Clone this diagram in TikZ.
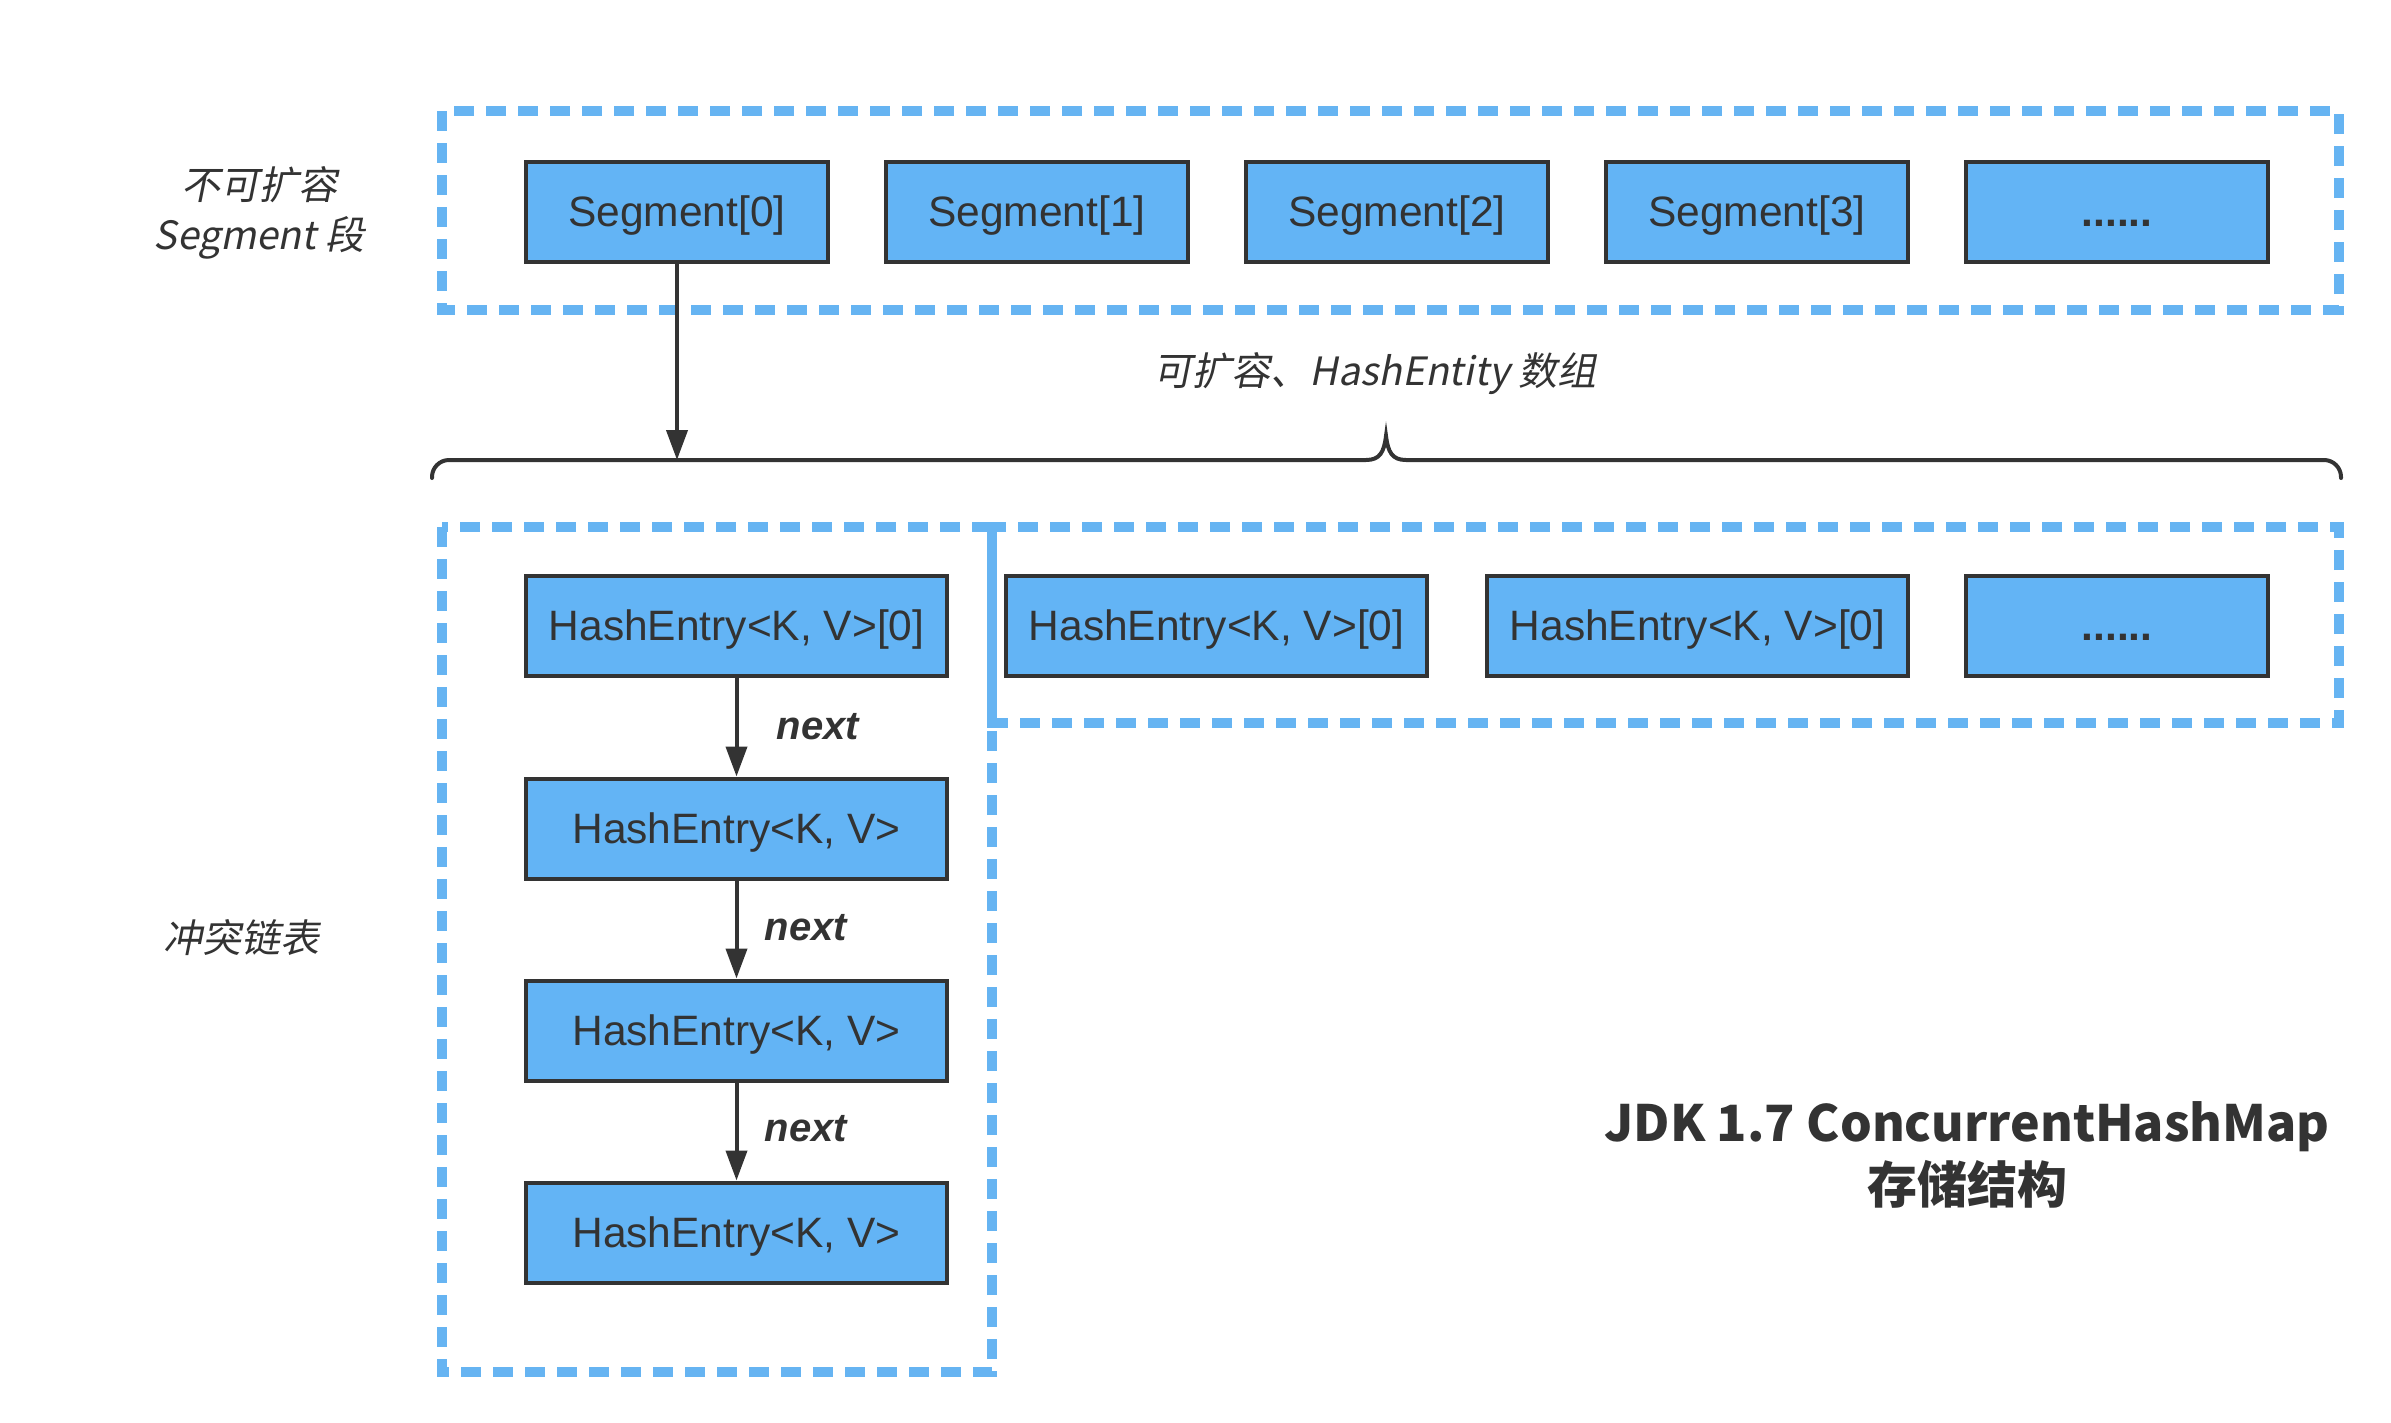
\documentclass[tikz,border=0pt]{standalone}
\usepackage{fontspec}
\setmainfont{Liberation Sans}
\newfontfamily\cjk{Noto Sans CJK SC}
\newfontfamily\cjkit[FakeSlant=0.2]{Noto Sans CJK SC}
\usetikzlibrary{arrows.meta}
\definecolor{boxblue}{RGB}{99,180,245}
\definecolor{dashblue}{RGB}{102,180,242}
\definecolor{ink}{RGB}{51,51,51}
\tikzset{
  cell/.style={draw=ink, line width=4pt, fill=boxblue, text=ink, minimum height=100pt,
    inner sep=0pt, text height=32pt, text depth=3pt, font=\fontsize{42.5}{48}\selectfont},
  segcell/.style={cell, minimum width=302pt},
  hecell/.style={cell, minimum width=421pt},
  group/.style={draw=dashblue, line width=10pt, dash pattern=on 20pt off 12pt},
  link/.style={draw=ink, line width=4pt, -{Triangle[length=30pt,width=21pt]}},
  note/.style={text=ink, font=\cjkit\fontsize{39}{50}\selectfont, align=center},
  nextlbl/.style={text=ink, font=\bfseries\itshape\fontsize{40}{48}\selectfont},
}
\newcommand{\moredots}{{\bfseries......}}
\begin{document}
\begin{tikzpicture}[x=1pt,y=-1pt]
\useasboundingbox (0,0) rectangle (2391,1422);
% dashed groups
\draw[group] (442,111) rectangle (2339,310);
\draw[group] (442,527) rectangle (992,1372);
\draw[group] (992,527) rectangle (2339,723);
% segments
\node[segcell] (s0) at (677,212) {Segment[0]};
\node[segcell] (s1) at (1037,212) {Segment[1]};
\node[segcell] (s2) at (1397,212) {Segment[2]};
\node[segcell] (s3) at (1757,212) {Segment[3]};
\node[segcell] (s4) at (2117,212) {\moredots};
% hash entry row
\node[hecell] (h0) at (736.5,626) {HashEntry<K, V>[0]};
\node[hecell] (h1) at (1216.5,626) {HashEntry<K, V>[0]};
\node[hecell] (h2) at (1697.5,626) {HashEntry<K, V>[0]};
\node[segcell] (h3) at (2117,626) {\moredots};
% chain
\node[hecell] (c1) at (736.5,828.5) {HashEntry<K, V>};
\node[hecell] (c2) at (736.5,1030.5) {HashEntry<K, V>};
\node[hecell] (c3) at (736.5,1232.5) {HashEntry<K, V>};
% brace
\coordinate (bl) at (432,478);
\coordinate (br) at (2341,478);
\coordinate (btip) at (1386,436);
\coordinate (bin) at (677,460);
\draw[ink, line width=4pt, line cap=round]
  (bl) -- (432,477) arc[start angle=180, end angle=90, radius=17pt] -- (1366,460)
  .. controls (1380,460) and (1384,452) .. (btip)
  .. controls (1388,452) and (1392,460) .. (1406,460)
  -- (2324,460) arc[start angle=90, end angle=0, radius=17pt] -- (br);
% arrows
\draw[link] (s0.south) -- (bin);
\draw[link] (h0.south) -- (c1.north);
\draw[link] (c1.south) -- (c2.north);
\draw[link] (c2.south) -- (c3.north);
% labels
\node[nextlbl] (n1) at (818,727) {next};
\node[nextlbl] (n2) at (806,928) {next};
\node[nextlbl] (n3) at (806,1129) {next};
\node[note] (lseg) at (259,213) {不可扩容\\Segment 段};
\node[note] (lhe) at (1375,374) {可扩容、HashEntity 数组};
\node[note] (lchain) at (241,938) {冲突链表};
\node[text=ink, font=\cjk\bfseries\fontsize{50}{62}\selectfont, align=center] (title) at (1967,1155)
  {JDK 1.7 ConcurrentHashMap\\存储结构};
\end{tikzpicture}
\end{document}
